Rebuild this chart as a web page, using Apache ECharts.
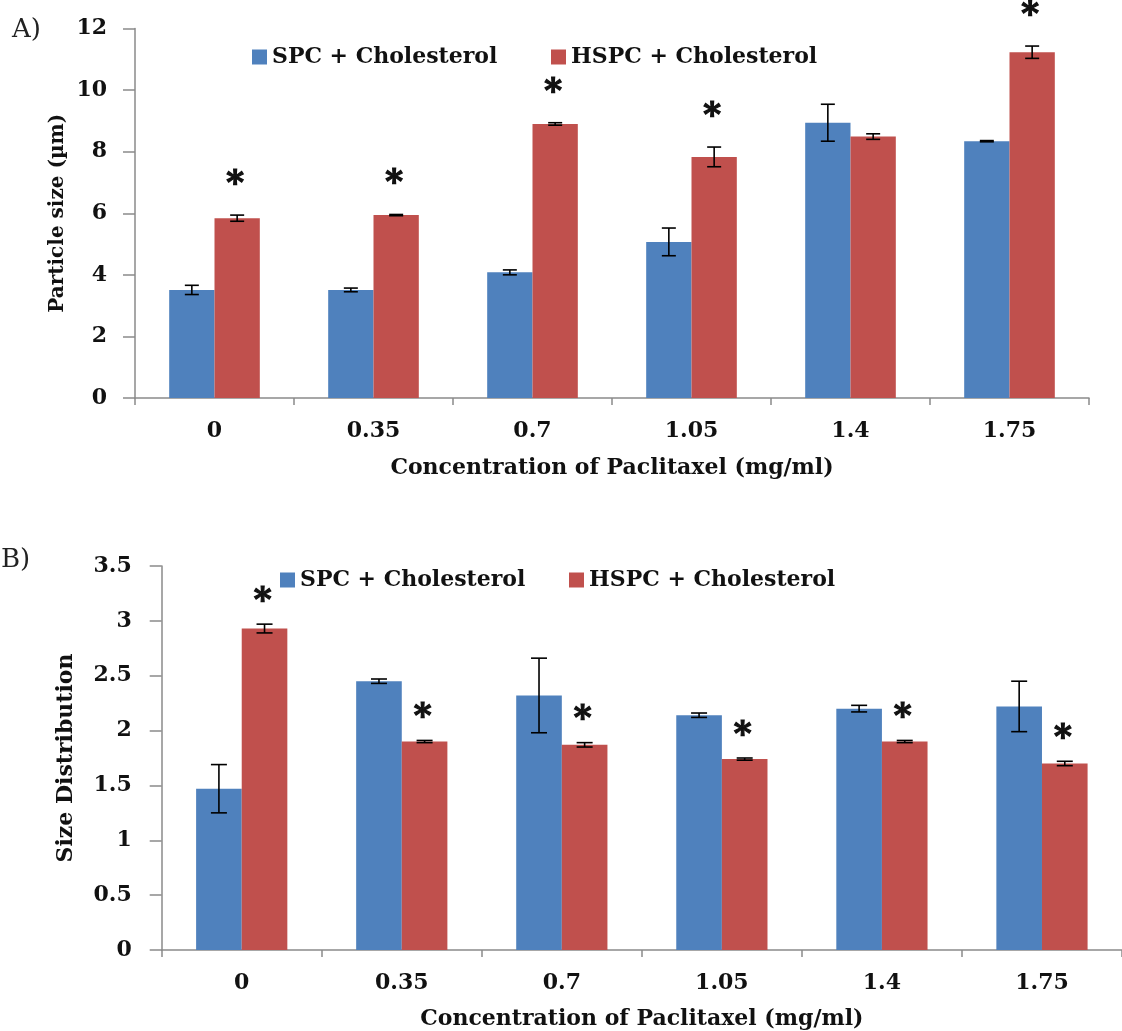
<!DOCTYPE html>
<html>
<head>
<meta charset="utf-8">
<script src="https://cdn.jsdelivr.net/npm/echarts@6/dist/echarts.min.js"></script>
<style>html,body{margin:0;padding:0;background:#fff;}#chart{width:1122px;height:1031px;}</style>
</head>
<body>
<div id="chart"></div>
<script>
const categories = ['0', '0.35', '0.7', '1.05', '1.4', '1.75'];
const seriesNames = ['SPC + Cholesterol', 'HSPC + Cholesterol'];

// Panel A: particle size (µm)
const sizeSPC = [3.51, 3.51, 4.08, 5.07, 8.94, 8.34];
const sizeSPCErr = [0.15, 0.06, 0.08, 0.45, 0.60, 0.02];
const sizeHSPC = [5.84, 5.94, 8.90, 7.83, 8.49, 11.23];
const sizeHSPCErr = [0.10, 0.02, 0.04, 0.32, 0.09, 0.20];
const sizeSig = [1, 1, 1, 1, 0, 1];
const sizeTicks = [0, 2, 4, 6, 8, 10, 12];

// Panel B: size distribution
const distSPC = [1.47, 2.45, 2.32, 2.14, 2.20, 2.22];
const distSPCErr = [0.22, 0.02, 0.34, 0.02, 0.03, 0.23];
const distHSPC = [2.93, 1.90, 1.87, 1.74, 1.90, 1.70];
const distHSPCErr = [0.04, 0.01, 0.02, 0.01, 0.01, 0.02];
const distSig = [1, 1, 1, 1, 1, 1];
const distTicks = [0, 0.5, 1, 1.5, 2, 2.5, 3, 3.5];

const BLUE = '#4F81BD', RED = '#C0504D';
const GAP = 0.43;
const SERIF = '"DejaVu Serif", "Liberation Serif", serif';
const AXIS_COLOR = '#8a8a8a';
const TEXT = '#111';

function errRender(side, sig, starOffset, capHalf) {
  return function (params, api) {
    const i = api.value(0), m = api.value(1), e = api.value(2);
    const catW = api.size([1, 0])[0];
    const bw = catW * (1 - GAP) / 2;
    const cx = api.coord([i, m])[0] + side * bw / 2;
    const yTop = api.coord([i, m + e])[1];
    const yBot = api.coord([i, m - e])[1];
    const ls = { stroke: '#000', lineWidth: 1.6 };
    const children = [
      { type: 'line', shape: { x1: cx, y1: yTop, x2: cx, y2: yBot }, style: ls },
      { type: 'line', shape: { x1: cx - capHalf, y1: yTop, x2: cx + capHalf, y2: yTop }, style: ls },
      { type: 'line', shape: { x1: cx - capHalf, y1: yBot, x2: cx + capHalf, y2: yBot }, style: ls }
    ];
    if (sig && sig[i]) {
      children.push({
        type: 'text', x: cx - 2, y: yTop - starOffset,
        style: { text: '*', font: 'bold 34px ' + SERIF, fill: TEXT, stroke: TEXT, lineWidth: 1.2, align: 'center', verticalAlign: 'middle' }
      });
    }
    return { type: 'group', children: children };
  };
}

function yAxis(gridIndex, ticks, name, gap, margin, nameSize) {
  return {
    type: 'value', gridIndex: gridIndex,
    min: ticks[0], max: ticks[ticks.length - 1], interval: ticks[1] - ticks[0],
    name: name, nameLocation: 'middle', nameGap: gap, nameMoveOverlap: false,
    nameTextStyle: { fontFamily: SERIF, fontWeight: 'bold', fontSize: nameSize, color: TEXT },
    axisLine: { show: true, lineStyle: { color: AXIS_COLOR, width: 1.5 } },
    axisTick: { show: true, length: 12, lineStyle: { color: AXIS_COLOR, width: 1.5 } },
    splitLine: { show: false },
    axisLabel: { fontFamily: SERIF, fontWeight: 'bold', fontSize: 22, color: TEXT, margin: margin }
  };
}

function xAxis(gridIndex, nameGap) {
  return {
    type: 'category', gridIndex: gridIndex, data: categories,
    name: 'Concentration of Paclitaxel (mg/ml)', nameLocation: 'middle', nameGap: nameGap, nameMoveOverlap: false,
    nameTextStyle: { fontFamily: SERIF, fontWeight: 'bold', fontSize: 22, color: TEXT },
    axisLine: { show: true, lineStyle: { color: AXIS_COLOR, width: 1.5 } },
    axisTick: { show: true, length: 7, alignWithLabel: false, inside: false, lineStyle: { color: AXIS_COLOR, width: 1.5 } },
    axisLabel: { fontFamily: SERIF, fontWeight: 'bold', fontSize: 22, color: TEXT, margin: 22 }
  };
}

function bar(name, data, color, xi) {
  return {
    name: name, type: 'bar', xAxisIndex: xi, yAxisIndex: xi, data: data,
    barGap: '0%', barCategoryGap: (GAP * 100) + '%',
    itemStyle: { color: color }, emphasis: { disabled: true }, animation: false
  };
}

function err(vals, errs, side, sig, xi, starOffset, capHalf) {
  return {
    type: 'custom', xAxisIndex: xi, yAxisIndex: xi, z: 10,
    data: vals.map((v, i) => [i, v, errs[i]]),
    encode: { x: 0, y: 1 },
    renderItem: errRender(side, sig, starOffset, capHalf),
    animation: false, silent: true
  };
}

const legendText = { fontFamily: SERIF, fontWeight: 'bold', fontSize: 22, color: TEXT };
function legend(name, left, top) {
  return {
    data: [name], left: left, top: top, itemWidth: 15, itemHeight: 15, itemGap: 0,
    icon: 'rect', textStyle: legendText, selectedMode: false, padding: 0
  };
}

const chart = echarts.init(document.getElementById('chart'), null, { renderer: 'canvas' });
chart.setOption({
  animation: false,
  backgroundColor: '#fff',
  grid: [
    { left: 135, top: 28.5, width: 954, height: 369.5 },
    { left: 161.7, top: 566, width: 969, height: 385 }
  ],
  xAxis: [xAxis(0, 59), xAxis(1, 58)],
  yAxis: [
    yAxis(0, sizeTicks, 'Particle size (\u00b5m)', 67, 28, 20),
    yAxis(1, distTicks, 'Size Distribution', 84, 30, 22)
  ],
  legend: [
    legend(seriesNames[0], 252, 46),
    legend(seriesNames[1], 551, 46),
    legend(seriesNames[0], 280, 569),
    legend(seriesNames[1], 569, 569)
  ],
  graphic: [
    { type: 'text', left: 12, top: 17, style: { text: 'A)', font: '26px ' + SERIF, fill: '#222' } },
    { type: 'text', left: 1, top: 547, style: { text: 'B)', font: '26px ' + SERIF, fill: '#222' } }
  ],
  series: [
    bar(seriesNames[0], sizeSPC, BLUE, 0),
    bar(seriesNames[1], sizeHSPC, RED, 0),
    err(sizeSPC, sizeSPCErr, -1, null, 0, 30, 7),
    err(sizeHSPC, sizeHSPCErr, 1, sizeSig, 0, 30, 7),
    bar(seriesNames[0], distSPC, BLUE, 1),
    bar(seriesNames[1], distHSPC, RED, 1),
    err(distSPC, distSPCErr, -1, null, 1, 22, 8),
    err(distHSPC, distHSPCErr, 1, distSig, 1, 22, 8)
  ]
});
</script>
</body>
</html>
